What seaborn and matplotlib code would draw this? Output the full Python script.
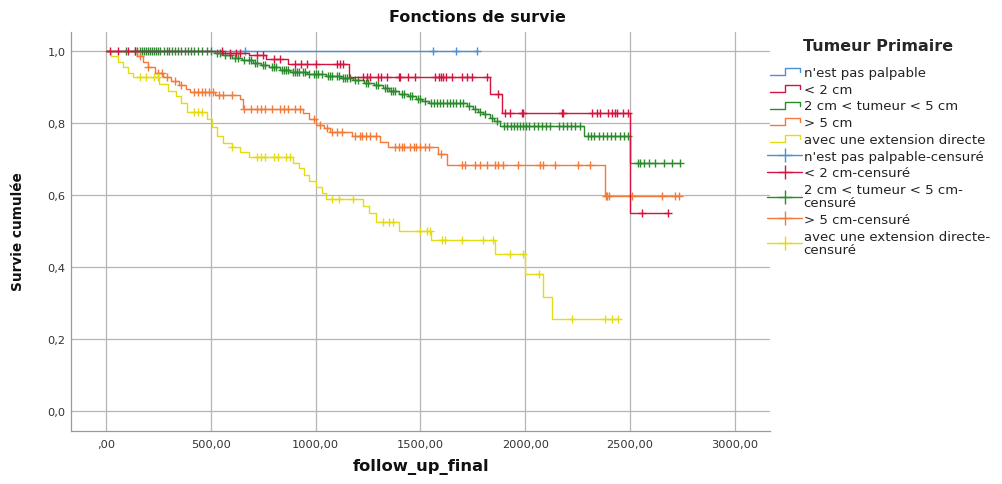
import numpy as np
import pandas as pd
import matplotlib
matplotlib.use("Agg")
import matplotlib.pyplot as plt
import seaborn as sns
from matplotlib.lines import Line2D
from matplotlib.legend_handler import HandlerBase
from matplotlib.ticker import FixedLocator, FuncFormatter

# ---- Kaplan-Meier estimates per primary tumour category ----
groups = ["n'est pas palpable", "< 2 cm", "2 cm < tumeur < 5 cm", "> 5 cm",
          "avec une extension directe"]

# event times (days) and survival level right after each event
np_evt_t = []
np_evt_s = []
np_cens = [663, 1558, 1670, 1768]

lt2_evt_t = [560, 680, 765, 866, 1160, 1832, 1889, 2500]
lt2_evt_s = [0.995, 0.990, 0.977, 0.963, 0.928, 0.880, 0.829, 0.550]
lt2_cens = [19, 57, 105, 140, 555, 590, 620, 640, 720, 750, 800, 830, 900, 930,
            960, 1000, 1100, 1115, 1131, 1226, 1245, 1260, 1300, 1310, 1340,
            1400, 1405, 1440, 1475, 1570, 1590, 1600, 1610, 1620, 1650, 1700,
            1720, 1745, 1818, 1870, 1904, 1928, 1985, 1990, 2176, 2180, 2319,
            2343, 2357, 2395, 2414, 2428, 2438, 2467, 2490, 2557, 2681]

mid_evt_t = [520, 560, 600, 650, 700, 740, 780, 830, 880, 960, 1050, 1120,
             1180, 1230, 1280, 1320, 1350, 1400, 1440, 1480, 1510, 1540, 1720,
             1750, 1775, 1800, 1830, 1850, 1880, 2280, 2500]
mid_evt_s = [0.995, 0.988, 0.981, 0.975, 0.968, 0.961, 0.955, 0.948, 0.942,
             0.937, 0.932, 0.926, 0.919, 0.912, 0.905, 0.897, 0.889, 0.882,
             0.875, 0.868, 0.862, 0.856, 0.848, 0.840, 0.832, 0.825, 0.815,
             0.806, 0.793, 0.765, 0.688]
mid_cens = [95, 140, 150, 160, 170, 180, 190, 200, 210, 220, 230, 240, 250, 260,
            275, 290, 300, 315, 330, 345, 360, 375, 390, 405, 420, 440, 460,
            480, 500, 530, 545, 570, 590, 615, 630, 660, 680, 690, 710, 720,
            750, 760, 790, 800, 810, 840, 850, 860, 870, 890, 900, 910, 920,
            940, 950, 970, 990, 1000, 1010, 1030, 1060, 1070, 1080, 1100, 1110,
            1130, 1140, 1150, 1165, 1190, 1200, 1240, 1250, 1290, 1300, 1330,
            1340, 1360, 1370, 1380, 1410, 1420, 1450, 1460, 1490, 1500, 1520,
            1550, 1565, 1580, 1595, 1610, 1625, 1640, 1655, 1670, 1690, 1705,
            1730, 1760, 1785, 1810, 1840, 1865, 1900, 1915, 1930, 1945, 1960,
            1975, 1990, 2005, 2020, 2040, 2060, 2080, 2100, 2120, 2160, 2180,
            2200, 2220, 2240, 2260, 2300, 2315, 2330, 2350, 2370, 2390, 2410,
            2430, 2450, 2470, 2490, 2540, 2550, 2565, 2590, 2620, 2660, 2700,
            2739]

gt5_evt_t = [150, 175, 200, 235, 270, 310, 350, 380, 400, 520, 640, 654, 940,
             970, 1000, 1040, 1070, 1174, 1307, 1346, 1585, 1627, 2381]
gt5_evt_s = [0.985, 0.970, 0.955, 0.940, 0.928, 0.918, 0.905, 0.895, 0.885,
             0.878, 0.867, 0.840, 0.828, 0.810, 0.795, 0.785, 0.774, 0.763,
             0.746, 0.732, 0.714, 0.683, 0.596]
gt5_cens = [160, 200, 250, 265, 290, 330, 360, 420, 440, 460, 470, 490, 510,
            540, 560, 600, 660, 690, 720, 740, 760, 790, 830, 850, 870, 900,
            925, 990, 1020, 1054, 1080, 1100, 1126, 1190, 1210, 1220, 1240,
            1260, 1290, 1380, 1400, 1410, 1420, 1450, 1470, 1480, 1500, 1520,
            1540, 1600, 1698, 1713, 1760, 1784, 1818, 1856, 1870, 1894, 1966,
            2071, 2085, 2142, 2252, 2309, 2385, 2392, 2400, 2510, 2652, 2715,
            2735]

ext_evt_t = [25, 55, 80, 105, 130, 255, 295, 335, 360, 385, 480, 505, 530, 560,
             600, 640, 680, 890, 920, 945, 970, 1000, 1030, 1050, 1225, 1255,
             1290, 1400, 1550, 1856, 2000, 2085, 2128]
ext_evt_s = [0.985, 0.970, 0.955, 0.940, 0.927, 0.908, 0.890, 0.875, 0.855,
             0.830, 0.810, 0.790, 0.765, 0.745, 0.733, 0.720, 0.705, 0.690,
             0.675, 0.655, 0.638, 0.622, 0.605, 0.589, 0.570, 0.550, 0.525,
             0.500, 0.476, 0.436, 0.380, 0.317, 0.256]
ext_cens = [160, 190, 230, 250, 420, 440, 460, 600, 720, 740, 760, 800, 820,
            860, 880, 1080, 1110, 1180, 1323, 1350, 1370, 1498, 1530, 1546,
            1603, 1617, 1698, 1799, 1846, 1927, 1990, 2066, 2223, 2381, 2414,
            2443]

series = {
    groups[0]: (np_evt_t, np_evt_s, np_cens),
    groups[1]: (lt2_evt_t, lt2_evt_s, lt2_cens),
    groups[2]: (mid_evt_t, mid_evt_s, mid_cens),
    groups[3]: (gt5_evt_t, gt5_evt_s, gt5_cens),
    groups[4]: (ext_evt_t, ext_evt_s, ext_cens),
}

colors = {
    groups[0]: "#4b8fd6",
    groups[1]: "#d2143f",
    groups[2]: "#2b8a2b",
    groups[3]: "#f47a38",
    groups[4]: "#e3dc12",
}

# build long tables for curves and censored observations
curve_rows, cens_rows = [], []
for g, (et, es, cs) in series.items():
    levels = [1.0] + list(es)
    t_all = [0.0] + list(et) + [max(cs)]
    s_all = levels + [levels[-1]]
    for t, s in zip(t_all, s_all):
        curve_rows.append((g, t, s))
    for c in cs:
        idx = np.searchsorted(np.asarray(et, dtype=float), c, side="right")
        cens_rows.append((g, c, levels[idx]))
curves = pd.DataFrame(curve_rows, columns=["group", "time", "surv"])
censored = pd.DataFrame(cens_rows, columns=["group", "time", "surv"])

sns.set_theme(style="white")
plt.rcParams["font.family"] = ["DejaVu Sans"]

fig = plt.figure(figsize=(10.02, 4.85), dpi=100)
ax = fig.add_axes([71 / 1002, 53 / 485, 699 / 1002, 399 / 485])

draw_order = [groups[2], groups[3], groups[4], groups[0], groups[1]]
for z, g in enumerate(draw_order):
    sns.lineplot(data=curves[curves.group == g], x="time", y="surv",
                 color=colors[g], estimator=None, sort=False,
                 drawstyle="steps-post", linewidth=1.0, ax=ax, zorder=3 + z)
    sns.scatterplot(data=censored[censored.group == g], x="time", y="surv",
                    color=colors[g], marker="+", s=40, linewidth=1.0, ax=ax,
                    zorder=3 + z, legend=False)

ax.set_xlim(-167, 3168)
ax.set_ylim(-0.056, 1.053)
ax.xaxis.set_major_locator(FixedLocator(np.arange(0, 3001, 500)))
ax.yaxis.set_major_locator(FixedLocator(np.arange(0, 1.01, 0.2)))
ax.xaxis.set_major_formatter(FuncFormatter(
    lambda v, p: ",00" if v == 0 else f"{v:.2f}".replace(".", ",")))
ax.yaxis.set_major_formatter(FuncFormatter(
    lambda v, p: f"{v:.1f}".replace(".", ",")))
ax.tick_params(axis="both", length=0, labelsize=8.2, colors="#333333")
ax.tick_params(axis="x", pad=6)
ax.tick_params(axis="y", pad=4)
ax.grid(True, color="#b5b5b5", linewidth=0.9)
ax.set_axisbelow(True)
for side in ["top", "right"]:
    ax.spines[side].set_visible(False)
for side in ["left", "bottom"]:
    ax.spines[side].set_color("#9a9a9a")
    ax.spines[side].set_linewidth(0.9)
ax.set_xlabel("")
ax.set_ylabel("")

fig.text(477 / 1002, 1 - 17 / 485, "Fonctions de survie", ha="center",
         va="center", fontsize=11.5, fontweight="bold", color="#111111")
fig.text(421 / 1002, 1 - 467 / 485, "follow_up_final", ha="center",
         va="center", fontsize=11.8, fontweight="bold", color="#111111")
fig.text(18 / 1002, 1 - 232 / 485, "Survie cumulée", ha="center",
         va="center", rotation=90, fontsize=9.8, fontweight="bold",
         color="#111111")


class StepHandler(HandlerBase):
    """Legend key shaped like a survival step."""

    def create_artists(self, legend, orig_handle, xdescent, ydescent, width,
                       height, fontsize, trans):
        x0, y0 = -xdescent, -ydescent
        xs = [x0 + 0.08 * width, x0 + 0.5 * width, x0 + 0.5 * width,
              x0 + 0.95 * width, x0 + 0.95 * width]
        ys = [y0 + 0.1 * height, y0 + 0.1 * height, y0 + 0.85 * height,
              y0 + 0.85 * height, y0 + 0.4 * height]
        ln = Line2D(xs, ys, color=orig_handle.get_color(),
                    linewidth=orig_handle.get_linewidth())
        ln.set_transform(trans)
        return [ln]


handles, labels, handler_map = [], [], {}
for g in groups:
    h = Line2D([], [], color=colors[g], linewidth=1.0)
    handles.append(h)
    labels.append(g)
    handler_map[h] = StepHandler()
cens_labels = ["n'est pas palpable-censuré", "< 2 cm-censuré",
               "2 cm < tumeur < 5 cm-\ncensuré", "> 5 cm-censuré",
               "avec une extension directe-\ncensuré"]
for g, lab in zip(groups, cens_labels):
    handles.append(Line2D([], [], color=colors[g], linewidth=1.0, marker="+",
                          markersize=10, markeredgewidth=1.0))
    labels.append(lab)

leg = fig.legend(handles, labels, handler_map=handler_map, loc="upper left",
                 bbox_to_anchor=(762 / 1002, 1 - 34 / 485), frameon=False,
                 fontsize=9.5, title="Tumeur Primaire", handlelength=2.65,
                 handletextpad=0.1, labelspacing=0.28, borderaxespad=0)
leg.get_title().set_fontweight("bold")
leg.get_title().set_fontsize(11.5)
leg._legend_box.sep = 9.2
for t in leg.get_texts():
    t.set_color("#222222")
    t.set_linespacing(1.05)

fig.savefig("out.png", dpi=100)
